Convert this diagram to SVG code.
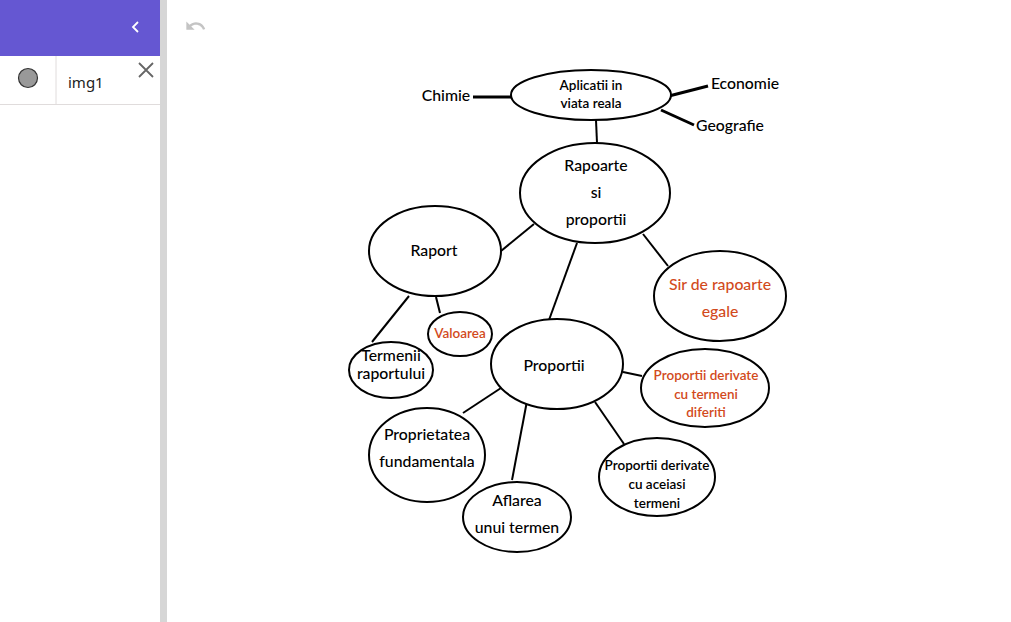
<svg xmlns="http://www.w3.org/2000/svg" width="1011" height="622" viewBox="0 0 1011 622">
<style>
.n{fill:#fff;stroke:#000;stroke-width:2}
.t{font-family:Lato,"Open Sans",sans-serif;font-size:15.8px;fill:#000;text-anchor:middle;font-weight:500}
.s{font-size:13.5px;font-weight:600}
.o{fill:#d24a1c}
.c line{stroke:#000;stroke-width:2}
.c .k{stroke-width:3}
.ui{font-family:"Noto Sans",sans-serif}
</style>
<rect width="1011" height="622" fill="#fff"/>
<g id="panel">
<rect x="0" y="0" width="160" height="56" fill="#6557d2"/>
<path d="M138 22 L133 27 L138 32" fill="none" stroke="#fff" stroke-width="1.8"/>
<rect x="160" y="0" width="7" height="622" fill="#d6d6d6"/>
<line x1="56" y1="56" x2="56" y2="104" stroke="#e0dcdc" stroke-width="1"/>
<line x1="0" y1="104.5" x2="160" y2="104.5" stroke="#e0dcdc" stroke-width="1"/>
<circle cx="28" cy="78" r="9.5" fill="#999" stroke="#333" stroke-width="1.2"/>
<text x="68" y="88" class="ui" font-size="15" fill="#222">img1</text>
<path d="M139 63 L153 77 M153 63 L139 77" stroke="#666" stroke-width="1.8"/>
<path transform="translate(184.5,15) scale(0.92)" fill="#c4c4c4" d="M12.5 8c-2.65 0-5.05.99-6.9 2.6L2 7v9h9l-3.62-3.62c1.39-1.16 3.16-1.88 5.12-1.88 3.54 0 6.55 2.31 7.6 5.5l2.37-.78C21.08 11.03 17.15 8 12.5 8z"/>
</g>
<g class="c" id="connectors">
<line class="k" x1="473" y1="97" x2="512" y2="97"/>
<line class="k" x1="669" y1="96" x2="708" y2="86"/>
<line class="k" x1="661" y1="110" x2="694" y2="125"/>
<line x1="596" y1="120" x2="597" y2="143"/>
<line x1="501" y1="251" x2="534" y2="224"/>
<line x1="409" y1="296" x2="372" y2="342"/>
<line x1="436" y1="297" x2="440" y2="313"/>
<line x1="643" y1="234" x2="668" y2="266"/>
<line x1="577" y1="243" x2="549" y2="320"/>
<line x1="623" y1="372" x2="642" y2="376"/>
<line x1="463" y1="413" x2="501" y2="388"/>
<line x1="527" y1="401" x2="512" y2="480"/>
<line x1="595" y1="402" x2="624" y2="444"/>
</g>
<g id="aplicatii"><ellipse class="n" cx="591" cy="95" rx="80" ry="25"/><text class="t s" x="591" y="90">Aplicatii in</text><text class="t s" x="591" y="108">viata reala</text></g>
<g id="chimie"><text class="t" x="446" y="101">Chimie</text></g>
<g id="economie"><text class="t" x="745" y="89">Economie</text></g>
<g id="geografie"><text class="t" x="730" y="131">Geografie</text></g>
<g id="rapoarte"><ellipse class="n" cx="595" cy="193" rx="75" ry="50"/><text class="t" x="596" y="171" font-size="16.5">Rapoarte</text><text class="t" x="596" y="198" font-size="16.5">si</text><text class="t" x="596" y="225" font-size="16.5">proportii</text></g>
<g id="raport"><ellipse class="n" cx="435" cy="251" rx="66" ry="45"/><text class="t" x="434" y="256">Raport</text></g>
<g id="termenii"><ellipse class="n" cx="391" cy="370" rx="42" ry="28"/><text class="t" x="391" y="361">Termenii</text><text class="t" x="391" y="379">raportului</text></g>
<g id="valoarea"><ellipse class="n" cx="460" cy="334" rx="32" ry="22"/><text class="t s o" x="460" y="338">Valoarea</text></g>
<g id="sir"><ellipse class="n" cx="720" cy="296" rx="66" ry="45"/><text class="t o" x="720" y="290" font-size="16">Sir de rapoarte</text><text class="t o" x="720" y="317" font-size="16">egale</text></g>
<g id="proportii"><ellipse class="n" cx="557" cy="364" rx="66" ry="45"/><text class="t" x="554" y="371">Proportii</text></g>
<g id="derivate-diferiti"><ellipse class="n" cx="705" cy="388" rx="64" ry="39"/><text class="t s o" x="706" y="380">Proportii derivate</text><text class="t s o" x="706" y="399">cu termeni</text><text class="t s o" x="706" y="417">diferiti</text></g>
<g id="proprietatea"><ellipse class="n" cx="427" cy="455" rx="58" ry="47"/><text class="t" x="427" y="440">Proprietatea</text><text class="t" x="427" y="467">fundamentala</text></g>
<g id="aflarea"><ellipse class="n" cx="517" cy="517" rx="54" ry="35"/><text class="t" x="517" y="506">Aflarea</text><text class="t" x="517" y="533">unui termen</text></g>
<g id="derivate-aceiasi"><ellipse class="n" cx="657" cy="477" rx="58" ry="39"/><text class="t s" x="657" y="470" font-size="14.5">Proportii derivate</text><text class="t s" x="657" y="489" font-size="14.5">cu aceiasi</text><text class="t s" x="657" y="508" font-size="14.5">termeni</text></g>
</svg>
